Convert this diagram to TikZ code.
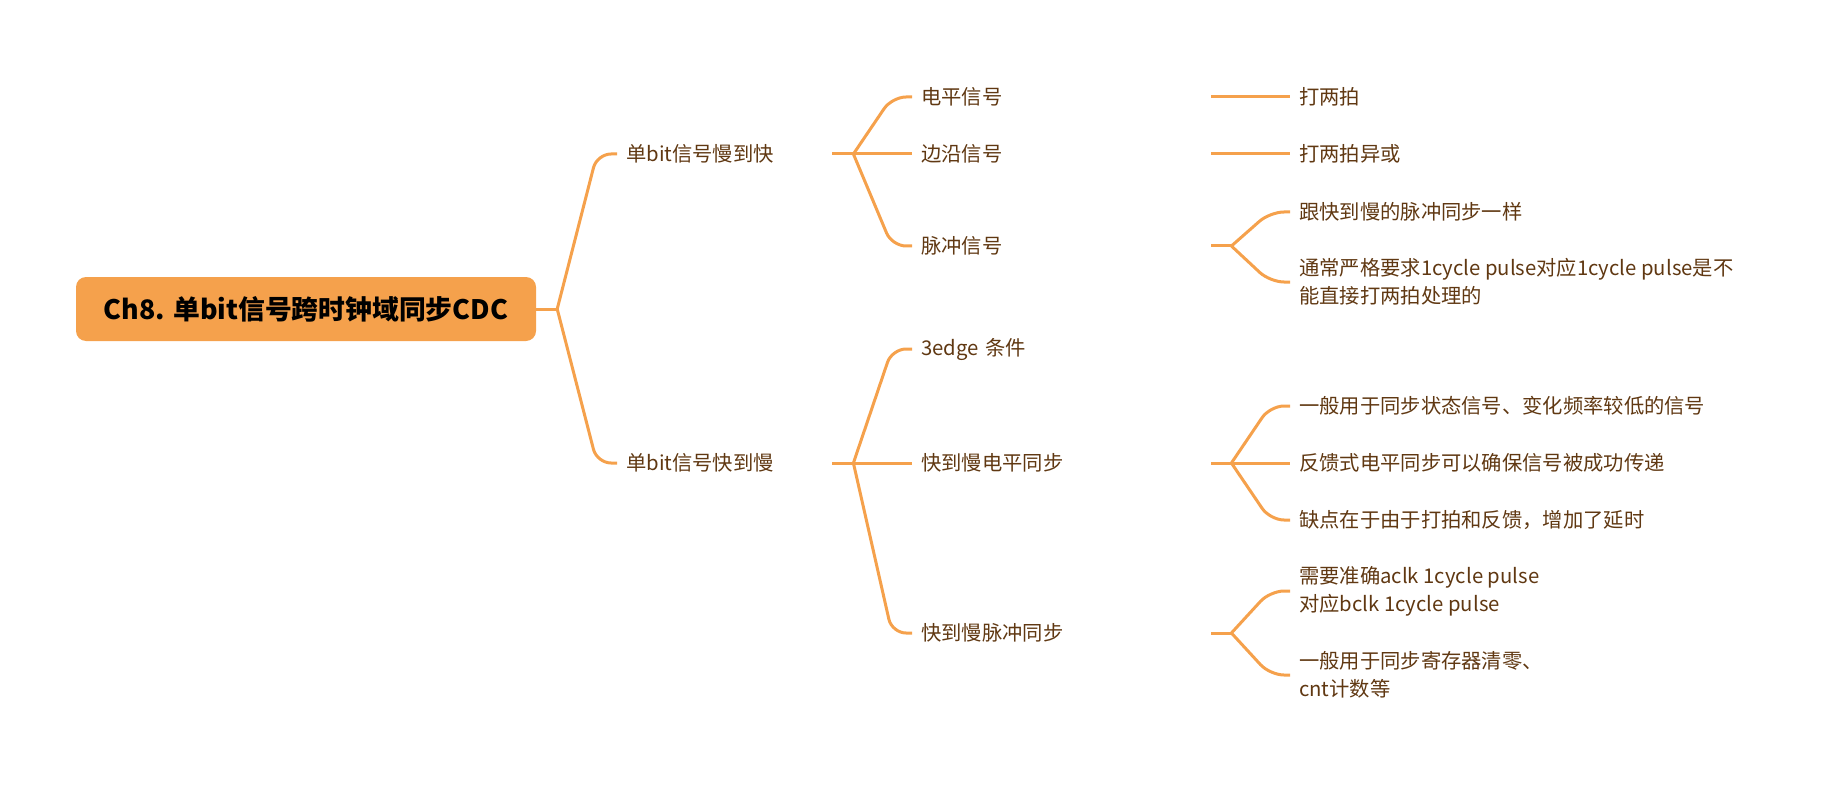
\documentclass[tikz,border=0pt]{standalone}
\usepackage{fontspec}
\setmainfont{Noto Sans CJK SC}
\definecolor{mmorange}{RGB}{245,161,76}
\definecolor{mmbrown}{RGB}{96,56,18}
\tikzset{
	rootbox/.style={fill=mmorange, rounded corners=10pt, minimum width=460pt, minimum height=64pt, inner sep=0pt, font=\fontsize{26.8}{32}\selectfont\bfseries, text=black},
	topic/.style={anchor=west, inner xsep=9pt, inner ysep=0pt, align=left, font=\fontsize{20.3}{28}\selectfont, text=mmbrown},
	link/.style={draw=mmorange, line width=3pt, rounded corners=14pt},
}
\begin{document}
\begin{tikzpicture}[x=1pt, y=-1pt]
		\useasboundingbox (0,0) rectangle (1830,786);

		\node[rootbox] (root) at (306,309) {Ch8. 单bit信号跨时钟域同步CDC};
		\coordinate (b0) at ([xshift=21pt]root.east);

		% first level
		\node[topic, text width=197pt] (slowfast) at (617,154) {单bit信号慢到快};
		\node[topic, text width=197pt] (fastslow) at (617,463) {单bit信号快到慢};
		\coordinate (b1) at ([xshift=21pt]slowfast.east);
		\coordinate (b2) at ([xshift=21pt]fastslow.east);

		% second level
		\node[topic, text width=281pt] (level) at (912,97) {电平信号};
		\node[topic, text width=281pt] (edge) at (912,154) {边沿信号};
		\node[topic, text width=281pt] (pulse) at (912,246) {脉冲信号};
		\node[topic, text width=281pt] (cond) at (912,349) {3edge 条件};
		\node[topic, text width=281pt] (fslevel) at (912,463) {快到慢电平同步};
		\node[topic, text width=281pt] (fspulse) at (912,633) {快到慢脉冲同步};
		\coordinate (b3) at ([xshift=20pt]pulse.east);
		\coordinate (b4) at ([xshift=20pt]fslevel.east);
		\coordinate (b5) at ([xshift=20pt]fspulse.east);

		% third level
		\node[topic] (twoff) at (1290,97) {打两拍};
		\node[topic] (twoffxor) at (1290,154) {打两拍异或};
		\node[topic] (same) at (1290,212) {跟快到慢的脉冲同步一样};
		\node[topic] (strict) at (1290,282) {通常严格要求1cycle pulse对应1cycle pulse是不\\能直接打两拍处理的};
		\node[topic] (usage) at (1290,406) {一般用于同步状态信号、变化频率较低的信号};
		\node[topic] (feedback) at (1290,463) {反馈式电平同步可以确保信号被成功传递};
		\node[topic] (drawback) at (1290,520) {缺点在于由于打拍和反馈，增加了延时};
		\node[topic] (exact) at (1290,591) {需要准确aclk 1cycle pulse\\对应bclk 1cycle pulse};
		\node[topic] (clear) at (1290,675) {一般用于同步寄存器清零、\\cnt计数等};

		% connectors
		\draw[link] (root.east) -- (b0);
		\foreach \c in {slowfast,fastslow}
			\draw[link] (b0) -- ([xshift=-20pt]\c.west) -- (\c.west);
		\draw[link] (slowfast.east) -- (b1);
		\foreach \c in {level,edge,pulse}
			\draw[link] (b1) -- ([xshift=-20pt]\c.west) -- (\c.west);
		\draw[link] (fastslow.east) -- (b2);
		\foreach \c in {cond,fslevel,fspulse}
			\draw[link] (b2) -- ([xshift=-20pt]\c.west) -- (\c.west);
		\draw[link] (level.east) -- (twoff.west);
		\draw[link] (edge.east) -- (twoffxor.west);
		\draw[link] (pulse.east) -- (b3);
		\foreach \c in {same,strict}
			\draw[link] (b3) -- ([xshift=-20pt]\c.west) -- (\c.west);
		\draw[link] (fslevel.east) -- (b4);
		\foreach \c in {usage,feedback,drawback}
			\draw[link] (b4) -- ([xshift=-20pt]\c.west) -- (\c.west);
		\draw[link] (fspulse.east) -- (b5);
		\foreach \c in {exact,clear}
			\draw[link] (b5) -- ([xshift=-20pt]\c.west) -- (\c.west);

	\end{tikzpicture}
\end{document}
